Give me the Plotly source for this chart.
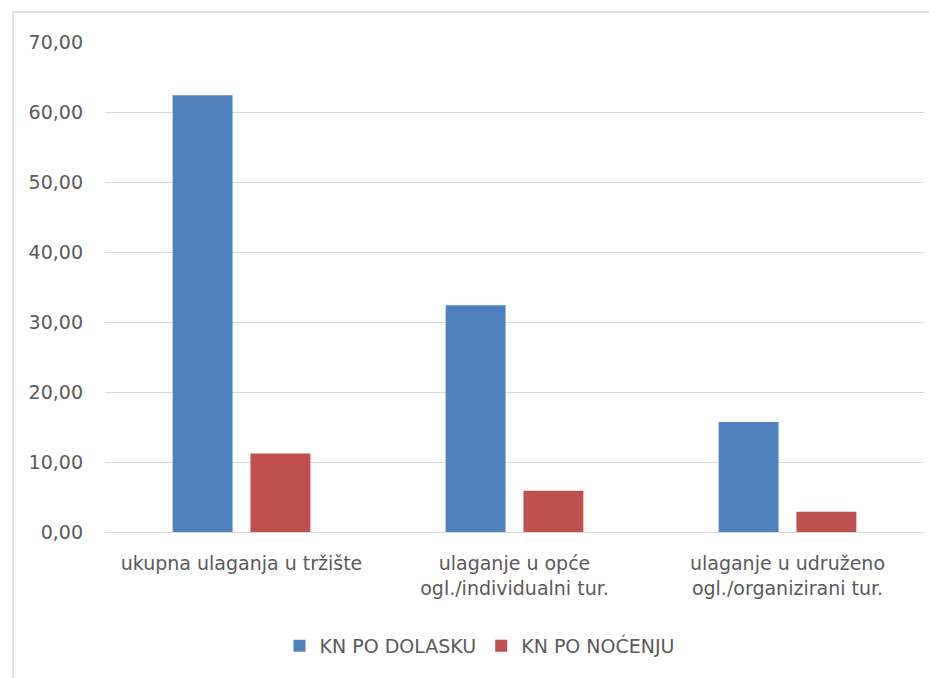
import plotly.graph_objects as go

categories = ["ukupna ulaganja u tržište",
              "ulaganje u opće<br>ogl./individualni tur.",
              "ulaganje u udruženo<br>ogl./organizirani tur."]
kn_po_dolasku = [62.4, 32.4, 15.7]
kn_po_nocenju = [11.2, 5.9, 2.9]
tick_vals = [0, 10, 20, 30, 40, 50, 60, 70]
tick_text = ["0,00", "10,00", "20,00", "30,00", "40,00", "50,00", "60,00", "70,00"]

OFF = 8  # page body margin
W, H = 937 - OFF, 678 - OFF
L, R, T, B = 105 - OFF, 13, 42 - OFF, 146
pw, ph = W - L - R, H - T - B

def px(xpix):
    return (xpix - OFF - L) / pw

def py(ypix):
    return (H - B - (ypix - OFF)) / ph

font = "DejaVu Sans"
grey = "#595959"

fig = go.Figure()
fig.add_trace(go.Bar(x=categories, y=kn_po_dolasku, name="KN PO DOLASKU",
                     marker=dict(color="#4F81BD", line=dict(width=0))))
fig.add_trace(go.Bar(x=categories, y=kn_po_nocenju, name="KN PO NOĆENJU",
                     marker=dict(color="#C0504D", line=dict(width=0))))

fig.update_layout(
    width=W, height=H,
    margin=dict(l=L, r=R, t=T, b=B, autoexpand=False),
    paper_bgcolor="white", plot_bgcolor="white",
    barmode="group", bargap=0.43, bargroupgap=0.23,
    font=dict(family=font, size=19, color=grey),
    showlegend=True,
    legend=dict(orientation="h", x=px(480), xanchor="center", y=py(646), yanchor="middle",
                font=dict(size=19, color=grey), traceorder="normal"),
    xaxis=dict(showgrid=False, showline=False, ticks="", ticklabelstandoff=18,
               tickfont=dict(size=19, color=grey)),
    yaxis=dict(range=[0, 70], tickvals=tick_vals, ticktext=tick_text,
               showgrid=True, gridcolor="#d9d9d9", gridwidth=1,
               zeroline=True, zerolinecolor="#d9d9d9", zerolinewidth=1,
               showline=False, ticks="", ticklabelstandoff=21,
               tickfont=dict(size=19, color=grey)),
    shapes=[
        dict(type="line", xref="paper", yref="paper", x0=px(13), x1=px(950), y0=py(12), y1=py(12),
             line=dict(color="#d9d9d9", width=1.5)),
        dict(type="line", xref="paper", yref="paper", x0=px(13), x1=px(13), y0=py(12), y1=py(700),
             line=dict(color="#d9d9d9", width=1.5)),
    ],
)

fig.write_html("out.html")
